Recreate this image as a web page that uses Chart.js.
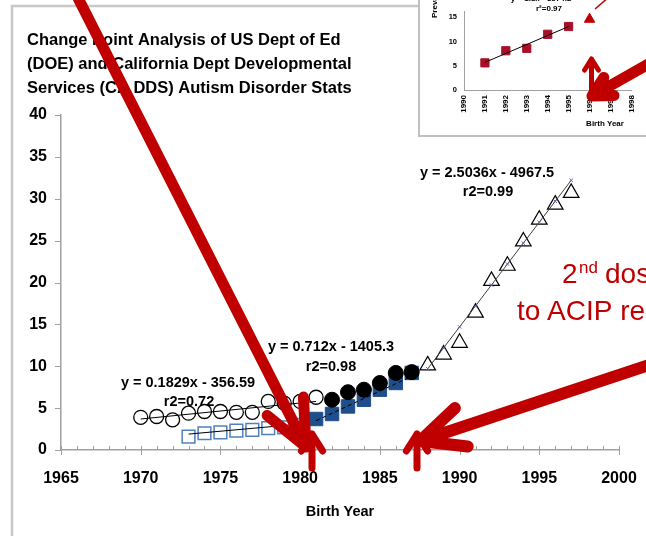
<!DOCTYPE html>
<html>
<head>
<meta charset="utf-8">
<script src="https://cdn.jsdelivr.net/npm/chart.js@4.4.0/dist/chart.umd.min.js"></script>
<style>
html,body{margin:0;padding:0;background:#fff;overflow:hidden}
#wrap{position:relative;width:646px;height:536px}
#inset{position:absolute;left:418px;top:0}
</style>
</head>
<body>
<div id="wrap">
  <canvas id="main" width="646" height="536"></canvas>
  <canvas id="inset" width="228" height="137"></canvas>
</div>
<script>
// main chart data
const xTicks = [1965,1970,1975,1980,1985,1990,1995,2000];
const yTicks = [0,5,10,15,20,25,30,35,40];

const doeYears = [1970,1971,1972,1973,1974,1975,1976,1977,1978,1979,1980,1981];
const doeVals  = [3.9,4.0,3.6,4.4,4.6,4.6,4.5,4.5,5.8,5.6,5.8,6.3];
const ddsYears = [1973,1974,1975,1976,1977,1978,1979,1980];
const ddsVals  = [1.6,2.0,2.1,2.3,2.4,2.6,2.7,3.0];
const doe2Years = [1982,1983,1984,1985,1986,1987];
const doe2Vals  = [6.0,6.9,7.2,8.0,9.2,9.3];
const dds2Years = [1981,1982,1983,1984,1985,1986,1987];
const dds2Vals  = [3.7,4.3,5.2,6.0,7.2,8.0,9.2];
const lateYears = [1988,1989,1990,1991,1992,1993,1994,1995,1996,1997];
const lateVals  = [10.1,11.4,12.8,16.4,20.2,22.0,24.9,27.5,29.3,30.7];

// trend lines as drawn
const trendDoeYears = [1970,1981];
const trendDoeVals  = [3.7,5.8];
const trendDdsYears = [1973,1980];
const trendDdsVals  = [1.9,3.1];
const trendDds2Years = [1981,1987];
const trendDds2Vals  = [3.5,8.8];
const trendLateYears = [1988,1989,1990,1991,1992,1993,1994,1995,1996,1997];
const trendLateVals  = [9.7,12.2,14.7,17.2,19.7,22.2,24.7,27.2,29.7,32.2];

// inset data
const insetLabels = ['1990','1991','1992','1993','1994','1995','1996','1997','1998'];
const insetSqIdx  = [1,2,3,4,5];
const insetSqVals = [5.6,8.1,8.6,11.5,13.1];
const insetTriIdx  = [6];
const insetTriVals = [14.6];
const insetTrendIdx  = [1,5];
const insetTrendVals = [5.7,13.1];

const FONT = 'Liberation Sans, Arial, sans-serif';
const RED = '#c00000';
const pts = (xs, ys) => xs.map((x,i)=>({x:x, y:ys[i]}));

function arrow(c, x0, y0, x1, y1, w, head, angDeg){
  const a = Math.atan2(y0-y1, x0-x1), d = angDeg*Math.PI/180;
  c.save();
  c.strokeStyle = RED; c.lineWidth = w; c.lineCap = 'round'; c.lineJoin = 'round';
  c.beginPath();
  c.moveTo(x0,y0); c.lineTo(x1,y1);
  c.moveTo(x1 + head*Math.cos(a+d), y1 + head*Math.sin(a+d));
  c.lineTo(x1,y1);
  c.lineTo(x1 + head*Math.cos(a-d), y1 + head*Math.sin(a-d));
  c.stroke();
  c.restore();
}

const decor = {
  id:'decor',
  beforeDraw(chart){
    const c = chart.ctx;
    c.save();
    c.fillStyle = '#fff'; c.fillRect(0,0,chart.width,chart.height);
    c.strokeStyle = '#c8c8c8'; c.lineWidth = 2.5;
    c.beginPath(); c.moveTo(12,536); c.lineTo(12,6); c.lineTo(420,6); c.stroke();
    c.restore();
  },
  afterDraw(chart){
    const c = chart.ctx, xs = chart.scales.x, ys = chart.scales.y;
    const y0 = ys.getPixelForValue(0);
    c.save();
    // axis tick marks
    c.strokeStyle = '#a0a0a0'; c.lineWidth = 1;
    for(let yr=1965; yr<=2000; yr++){
      const px = Math.round(xs.getPixelForValue(yr))+0.5;
      const major = yr%5===0;
      c.beginPath(); c.moveTo(px, y0-4); c.lineTo(px, y0+(major?5:0)); c.stroke();
    }
    yTicks.forEach(v=>{
      const py = Math.round(ys.getPixelForValue(v))+0.5;
      c.beginPath(); c.moveTo(xs.left-6, py); c.lineTo(xs.left, py); c.stroke();
    });
    // title
    c.fillStyle = '#000'; c.textBaseline = 'middle'; c.textAlign = 'left';
    c.font = 'bold 16.5px ' + FONT;
    c.fillText('Change Point Analysis of US Dept of Ed', 27, 40);
    c.fillText('(DOE) and California Dept Developmental', 27, 64);
    c.fillText('Services (CA DDS) Autism Disorder Stats', 27, 88);
    // equations
    c.textAlign = 'center';
    c.font = 'bold 14.5px ' + FONT;
    c.fillText('y = 0.1829x - 356.59', 188, 383);
    c.fillText('r2=0.72', 189, 402);
    c.fillText('y = 0.712x - 1405.3', 331, 347);
    c.fillText('r2=0.98', 331, 367);
    c.fillText('y = 2.5036x - 4967.5', 487, 173);
    c.fillText('r2=0.99', 488, 192);
    c.fillText('Birth Year', (xs.left+xs.right)/2, 512);
    // red note
    c.fillStyle = RED; c.textAlign = 'left'; c.textBaseline = 'alphabetic';
    c.font = '28px ' + FONT;
    c.fillText('2', 562, 283);
    c.font = '17px ' + FONT;
    c.fillText('nd', 579, 273);
    c.font = '28px ' + FONT;
    c.fillText('dose', 605, 283);
    c.fillText('to', 517, 320);
    c.fillText('ACIP rec', 547, 320);
    // arrows
    arrow(c, 77, -4, 306, 447, 11, 50, 24);
    arrow(c, 652, 364, 420, 441, 12, 48, 25);
    arrow(c, 312, 468, 312, 434, 7, 20, 32);
    arrow(c, 417, 468, 417, 434, 7, 20, 32);
    c.restore();
  }
};

new Chart(document.getElementById('main'), {
  type:'scatter',
  data:{ datasets:[
    {data:pts(trendDoeYears,trendDoeVals), showLine:true, borderColor:'#000', borderWidth:1, pointRadius:0},
    {data:pts(trendDdsYears,trendDdsVals), showLine:true, borderColor:'#000', borderWidth:1, pointRadius:0},
    {data:pts(trendDds2Years,trendDds2Vals), showLine:true, borderColor:'#000', borderWidth:1, borderDash:[4,3], pointRadius:0},
    {data:pts(trendLateYears,trendLateVals), showLine:true, borderColor:'#404040', borderWidth:1,
      pointStyle:'crossRot', pointRadius:2.5, pointBorderColor:'#7060a0', pointBorderWidth:1},
    {data:pts(doeYears,doeVals), pointStyle:'circle', pointRadius:7, borderColor:'#000', borderWidth:1.3, backgroundColor:'rgba(0,0,0,0)'},
    {data:pts(ddsYears,ddsVals), pointStyle:'rect', pointRadius:9, borderColor:'#4f81bd', borderWidth:1.5, backgroundColor:'rgba(0,0,0,0)'},
    {data:pts(doe2Years,doe2Vals), pointStyle:'circle', pointRadius:7.5, borderColor:'#000', borderWidth:1, backgroundColor:'#000'},
    {data:pts(dds2Years,dds2Vals), pointStyle:'rect', pointRadius:9.5, borderColor:'#1f4e8c', borderWidth:1, backgroundColor:'#1f4e8c'},
    {data:pts(lateYears,lateVals), pointStyle:'triangle', pointRadius:9, borderColor:'#000', borderWidth:1.2, backgroundColor:'rgba(0,0,0,0)'}
  ]},
  options:{
    responsive:false, animation:false, events:[],
    layout:{padding:{top:115, right:27, left:0, bottom:0}},
    plugins:{legend:{display:false}, tooltip:{enabled:false}},
    scales:{
      x:{type:'linear', min:1965, max:2000,
        afterBuildTicks:s=>{ s.ticks = xTicks.map(v=>({value:v})); },
        afterFit:s=>{ s.height = 86; s.paddingLeft = 0; s.paddingRight = 0; },
        grid:{display:false, drawTicks:false},
        border:{color:'#a0a0a0', width:1.5},
        ticks:{color:'#000', font:{family:FONT, size:16, weight:'bold'}, padding:19, maxRotation:0, callback:v=>String(v)}},
      y:{type:'linear', min:0, max:40,
        afterBuildTicks:s=>{ s.ticks = yTicks.map(v=>({value:v})); },
        afterFit:s=>{ s.width = 61; },
        grid:{display:false, drawTicks:false},
        border:{color:'#a0a0a0', width:1.5},
        ticks:{color:'#000', font:{family:FONT, size:16, weight:'bold'}, padding:14}}
    }
  },
  plugins:[decor]
});

// inset chart (cropped screenshot of a second chart)
const insetDecor = {
  id:'insetDecor',
  beforeDraw(chart){
    const c = chart.ctx;
    c.save(); c.fillStyle = '#fff'; c.fillRect(0,0,chart.width,chart.height); c.restore();
  },
  afterDraw(chart){
    const c = chart.ctx;
    c.save();
    c.fillStyle = '#000'; c.textAlign = 'center'; c.textBaseline = 'middle';
    c.font = 'bold 8px ' + FONT;
    c.fillText('r\u00b2=0.97', 131, 9);
    c.textBaseline = 'alphabetic';
    c.fillText('y = 1.8x - 3574.2', 123, 1);
    c.textBaseline = 'middle';
    c.fillText('Birth Year', 187, 124);
    c.save(); c.translate(17, 18); c.rotate(-Math.PI/2); c.textAlign = 'left';
    c.fillText('Prevalence', 0, 0); c.restore();
    c.strokeStyle = RED; c.lineWidth = 1.5;
    c.beginPath(); c.moveTo(177, 9); c.lineTo(191, -3); c.stroke();
    arrow(c, 173.5, 93, 173.5, 59, 5, 13, 32);
    arrow(c, 234, 62, 174, 96, 11, 22, 28);
    c.strokeStyle = '#c0c0c0'; c.lineWidth = 2;
    c.beginPath(); c.moveTo(1,0); c.lineTo(1,136); c.lineTo(228,136); c.stroke();
    c.restore();
  }
};

new Chart(document.getElementById('inset'), {
  type:'scatter',
  data:{ datasets:[
    {data:pts(insetTrendIdx,insetTrendVals), showLine:true, borderColor:'#000', borderWidth:1, pointRadius:0},
    {data:pts(insetSqIdx,insetSqVals), pointStyle:'rect', pointRadius:5.8, borderColor:'#a8102a', backgroundColor:'#a8102a'},
    {data:pts(insetTriIdx,insetTriVals), pointStyle:'triangle', pointRadius:6, borderColor:RED, backgroundColor:RED}
  ]},
  options:{
    responsive:false, animation:false, events:[],
    layout:{padding:{top:0, right:11, left:0, bottom:0}},
    plugins:{legend:{display:false}, tooltip:{enabled:false}},
    scales:{
      x:{type:'linear', min:0, max:8,
        afterBuildTicks:s=>{ s.ticks = insetLabels.map((l,i)=>({value:i})); },
        afterFit:s=>{ s.height = 47; },
        grid:{display:false, drawTicks:false},
        border:{color:'#a0a0a0', width:1},
        ticks:{color:'#000', font:{family:FONT, size:8, weight:'bold'}, padding:5, minRotation:90, maxRotation:90,
          callback:v=>insetLabels[v]}},
      y:{type:'linear', min:0, max:16.2,
        afterBuildTicks:s=>{ s.ticks = [0,5,10,15].map(v=>({value:v})); },
        afterFit:s=>{ s.width = 46; },
        grid:{display:false, drawTicks:false},
        border:{color:'#a0a0a0', width:1},
        ticks:{color:'#000', font:{family:FONT, size:7.5, weight:'bold'}, padding:7}}
    }
  },
  plugins:[insetDecor]
});
</script>
</body>
</html>
